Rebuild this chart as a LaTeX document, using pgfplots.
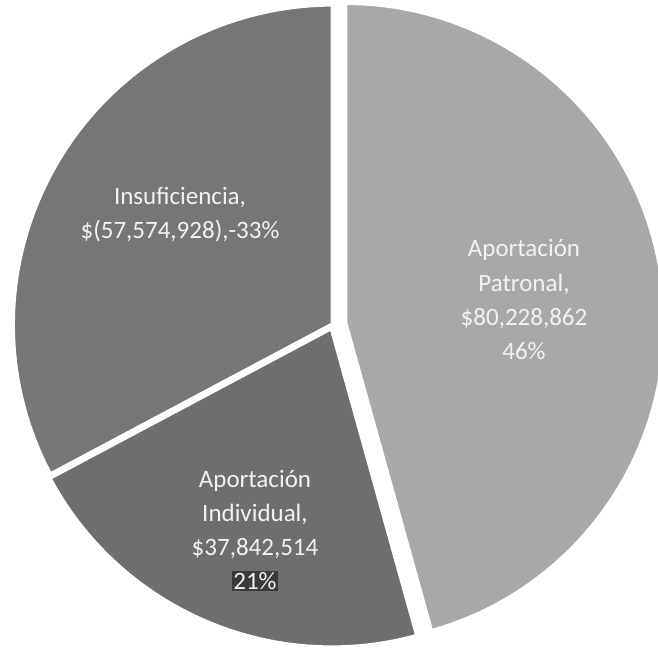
\documentclass[border=0pt]{standalone}
\usepackage{pgfplots}
\pgfplotsset{compat=1.18}
\usepackage{pgfplotstable}
\usepackage{fontspec}
\setmainfont{Carlito}

\definecolor{patronal}{RGB}{168,168,168}
\definecolor{individual}{RGB}{110,110,110}
\definecolor{insuf}{RGB}{118,118,118}
\definecolor{pctbox}{RGB}{58,58,58}
\definecolor{lbl}{RGB}{242,242,242}

% values in millions of pesos, explode in px
\pgfplotstableread{
label         value      explode
Patronal      80.228862  12
Individual    37.842514  3
Insuficiencia 57.574928  0
}\piedata

\pgfplotstablegetelem{0}{value}\of\piedata \let\vA\pgfplotsretval
\pgfplotstablegetelem{1}{value}\of\piedata \let\vB\pgfplotsretval
\pgfplotstablegetelem{2}{value}\of\piedata \let\vC\pgfplotsretval
\pgfplotstablegetelem{0}{explode}\of\piedata \let\eA\pgfplotsretval
\pgfplotstablegetelem{1}{explode}\of\piedata \let\eB\pgfplotsretval
\pgfplotstablegetelem{2}{explode}\of\piedata \let\eC\pgfplotsretval

\pgfmathsetmacro\total{\vA+\vB+\vC}
\pgfmathsetmacro\aA{90-(\vA/\total)*360}
\pgfmathsetmacro\aB{\aA-(\vB/\total)*360}
\pgfmathsetmacro\aC{\aB-(\vC/\total)*360}

\def\px{0.6pt}
\def\R{192.3pt}

\tikzset{lbl/.style={font=\fontsize{15}{20.5}\selectfont, text=lbl, align=center}}

% start angle, end angle, explode, colour
\newcommand\slice[4]{%
  \pgfmathsetmacro\midang{(#1+#2)/2}%
  \pgfmathsetmacro\shift{#3*0.6}%
  \edef\doslice{\noexpand\fill[#4, draw=white, line width=3pt, line join=miter]
    (axis cs:333,329) ++(\midang:\shift pt) -- ++(#1:\R)
    arc[start angle=#1, end angle=#2, radius=\R] -- cycle;}%
  \doslice
}

\begin{document}
\begin{tikzpicture}
\begin{axis}[
    x=\px, y=\px,
    xmin=0, xmax=658, ymin=0, ymax=657,
    axis lines=none,
    ticks=none,
    clip=true
]
\slice{90}{\aA}{\eA}{patronal}
\slice{\aA}{\aB}{\eB}{individual}
\slice{\aB}{\aC}{\eC}{insuf}

\node[lbl] at (axis cs:180,439) {Insuficiencia,\\\$(57,574,928),-33\%};
\node[lbl] at (axis cs:524,354) {Aportación\\Patronal,\\\$80,228,862\\46\%};
\node[lbl] at (axis cs:255,123) {Aportación\\Individual,\\\$37,842,514\\{\setlength\fboxsep{0.8pt}\colorbox{pctbox}{21\%}}};
\end{axis}
\end{tikzpicture}
\end{document}
